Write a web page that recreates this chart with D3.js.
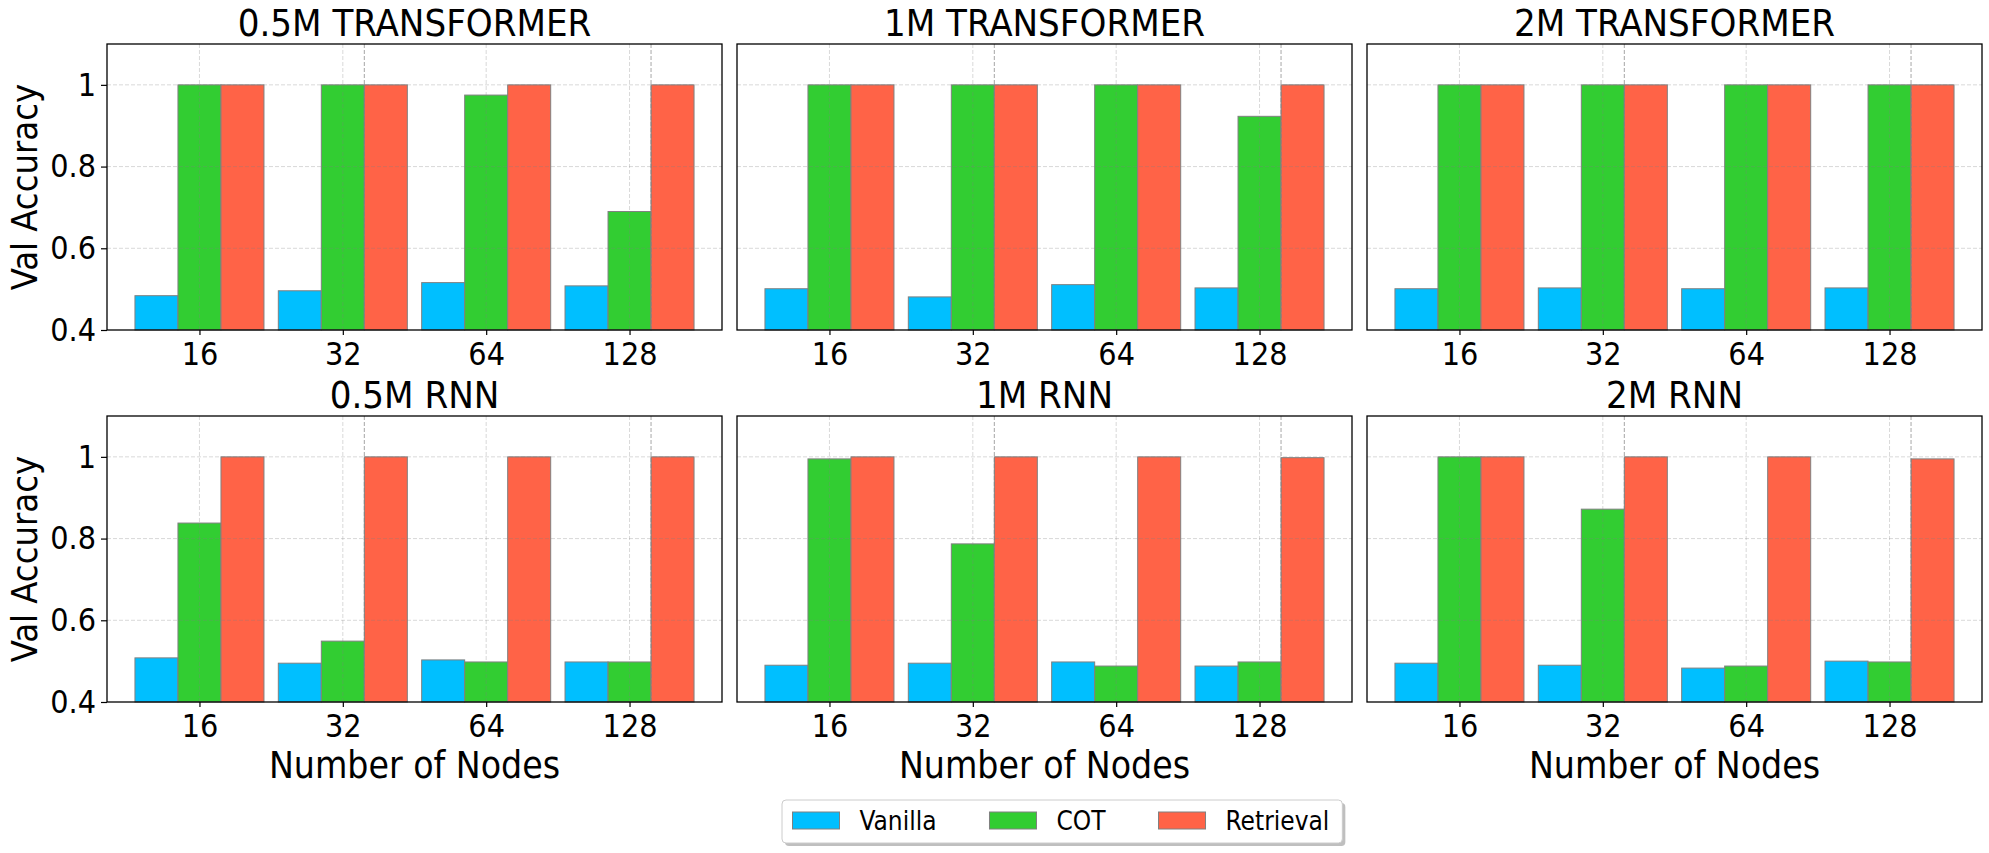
<!DOCTYPE html>
<html>
<head>
<meta charset="utf-8">
<script src="https://cdn.jsdelivr.net/npm/d3@7"></script>
<style>
  body { margin: 0; background: #fff; }
  text { font-family: "DejaVu Sans Condensed", "DejaVu Sans", sans-serif; font-stretch: condensed; fill: #000; }
</style>
</head>
<body>
<div id="chart"></div>
<script>
// categories / series
var nodes = ["16", "32", "64", "128"];
var series = ["Vanilla", "COT", "Retrieval"];
var colors = ["#00bfff", "#32cd32", "#ff6347"];
var panelTitles = ["0.5M TRANSFORMER", "1M TRANSFORMER", "2M TRANSFORMER",
                   "0.5M RNN", "1M RNN", "2M RNN"];

// one row per panel, one value per node count
var vanilla = [
  [0.484, 0.496, 0.516, 0.508],
  [0.501, 0.481, 0.511, 0.503],
  [0.501, 0.503, 0.501, 0.503],
  [0.508, 0.495, 0.503, 0.498],
  [0.490, 0.495, 0.498, 0.488],
  [0.495, 0.490, 0.483, 0.500]
];
var cot = [
  [1.000, 1.000, 0.975, 0.690],
  [1.000, 1.000, 1.000, 0.923],
  [1.000, 1.000, 1.000, 1.000],
  [0.838, 0.549, 0.498, 0.498],
  [0.995, 0.787, 0.488, 0.498],
  [1.000, 0.872, 0.488, 0.498]
];
var retrieval = [
  [1.000, 1.000, 1.000, 1.000],
  [1.000, 1.000, 1.000, 1.000],
  [1.000, 1.000, 1.000, 1.000],
  [1.000, 1.000, 1.000, 1.000],
  [1.000, 1.000, 1.000, 0.998],
  [1.000, 1.000, 1.000, 0.995]
];
var yTicks = [0.4, 0.6, 0.8, 1];
var yTickLabels = ["0.4", "0.6", "0.8", "1"];
var extraGrid = [1, 3];   // darker dashed line right of the green bar

var W = 1989, H = 853;
var svg = d3.select("#chart").append("svg").attr("width", W).attr("height", H);

var colLeft = [107, 737, 1367], rowTop = [44, 416];
var pw = 615, ph = 286;
var barW = 0.3;

var x = d3.scaleLinear().domain([-0.645, 3.645]).range([0, pw]);
var y = d3.scaleLinear().domain([0.4, 1.1]).range([ph, 0]);

var allData = [vanilla, cot, retrieval];

panelTitles.forEach(function(title, p) {
  var row = Math.floor(p / 3), col = p % 3;
  var g = svg.append("g").attr("transform", "translate(" + colLeft[col] + "," + rowTop[row] + ")");

  // bars
  series.forEach(function(s, si) {
    g.append("g").selectAll("rect")
      .data(allData[si][p])
      .enter().append("rect")
        .attr("x", function(d, i) { return x(i + (si - 1) * barW - barW / 2); })
        .attr("y", function(d) { return y(d); })
        .attr("width", x(barW) - x(0))
        .attr("height", function(d) { return y(0.4) - y(d); })
        .attr("fill", colors[si])
        .attr("stroke", "#808080")
        .attr("stroke-width", 1);
  });

  // grid (drawn over bars, semi transparent)
  g.append("g").selectAll("line.h")
    .data(yTicks.slice(1))
    .enter().append("line")
      .attr("x1", 0).attr("x2", pw)
      .attr("y1", function(d) { return y(d); }).attr("y2", function(d) { return y(d); })
      .attr("stroke", "#808080").attr("stroke-opacity", 0.3)
      .attr("stroke-dasharray", "4,2");
  g.append("g").selectAll("line.v")
    .data(d3.range(nodes.length))
    .enter().append("line")
      .attr("x1", function(d) { return x(d); }).attr("x2", function(d) { return x(d); })
      .attr("y1", 0).attr("y2", ph)
      .attr("stroke", "#808080").attr("stroke-opacity", 0.3)
      .attr("stroke-dasharray", "4,2");
  g.append("g").selectAll("line.e")
    .data(extraGrid)
    .enter().append("line")
      .attr("x1", function(d) { return x(d + barW / 2); }).attr("x2", function(d) { return x(d + barW / 2); })
      .attr("y1", 0).attr("y2", ph)
      .attr("stroke", "#808080").attr("stroke-opacity", 0.7)
      .attr("stroke-dasharray", "4,2");

  // frame
  g.append("rect")
    .attr("width", pw).attr("height", ph)
    .attr("fill", "none").attr("stroke", "#000").attr("stroke-width", 1.3);

  // x axis
  var xa = g.append("g")
    .attr("transform", "translate(0," + ph + ")")
    .call(d3.axisBottom(x).tickValues(d3.range(nodes.length))
      .tickFormat(function(i) { return nodes[i]; })
      .tickSize(5).tickPadding(7));
  xa.select(".domain").remove();
  xa.selectAll("line").attr("stroke", "#000").attr("stroke-width", 1.2);
  xa.selectAll("text").attr("font-family", null).attr("font-size", 32);

  // y axis only on first column
  if (col === 0) {
    var ya = g.append("g")
      .call(d3.axisLeft(y).tickValues(yTicks)
        .tickFormat(function(d, i) { return yTickLabels[i]; })
        .tickSize(6).tickPadding(5));
    ya.select(".domain").remove();
    ya.selectAll("line").attr("stroke", "#000").attr("stroke-width", 1.2);
    ya.selectAll("text").attr("font-family", null).attr("font-size", 32);

    g.append("text")
      .attr("transform", "translate(" + (24 - colLeft[0]) + "," + ph / 2 + ") rotate(-90)")
      .attr("text-anchor", "middle")
      .attr("dominant-baseline", "central")
      .attr("font-size", 36)
      .text("Val Accuracy");
  }

  // title
  g.append("text")
    .attr("x", pw / 2).attr("y", -8)
    .attr("text-anchor", "middle")
    .attr("font-size", 38)
    .text(title);

  if (row === 1) {
    g.append("text")
      .attr("x", pw / 2).attr("y", 778 - rowTop[1])
      .attr("text-anchor", "middle")
      .attr("font-size", 37)
      .text("Number of Nodes");
  }
});

// legend
var lg = svg.append("g").attr("transform", "translate(782,800)");
var shadow = lg.append("rect");
var box = lg.append("rect");
var cx = 10.5;
series.forEach(function(s, i) {
  lg.append("rect")
    .attr("x", cx).attr("y", 12)
    .attr("width", 47).attr("height", 17)
    .attr("fill", colors[i]).attr("stroke", "#808080").attr("stroke-width", 1);
  var t = lg.append("text")
    .attr("x", cx + 67).attr("y", 29.5)
    .attr("font-size", 26)
    .text(s);
  cx = cx + 67 + t.node().getComputedTextLength() + 53;
});
var bw = cx - 53 + 13;
shadow.attr("x", 3).attr("y", 3).attr("width", bw).attr("height", 43)
  .attr("rx", 4).attr("fill", "#808080").attr("fill-opacity", 0.5);
box.attr("width", bw).attr("height", 43).attr("rx", 4)
  .attr("fill", "#fff").attr("stroke", "#cccccc").attr("stroke-width", 1);
</script>
</body>
</html>
